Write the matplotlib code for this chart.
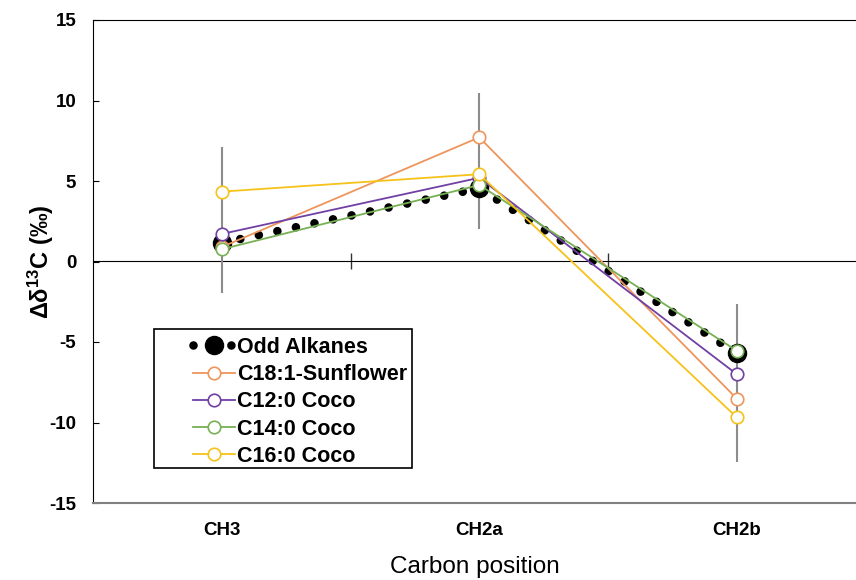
import matplotlib
matplotlib.use("Agg")
import matplotlib.pyplot as plt
from matplotlib.patches import Rectangle

plt.rcParams['font.family'] = ['Liberation Sans', 'DejaVu Sans']
plt.rcParams['axes.unicode_minus'] = False
plt.rcParams['mathtext.fontset'] = 'custom'
plt.rcParams['mathtext.rm'] = 'Liberation Sans:bold'
plt.rcParams['mathtext.bf'] = 'Liberation Sans:bold'
plt.rcParams['mathtext.default'] = 'bf'

categories = ["CH3", "CH2a", "CH2b"]
odd_alkanes = [1.15, 4.55, -5.70]
c18_sunflower = [0.9, 7.71, -8.52]
c12_coco = [1.71, 5.2, -7.0]
c14_coco = [0.76, 4.75, -5.54]
c16_coco = [4.34, 5.42, -9.68]
err_low = [-1.95, 2.02, -12.43]
err_high = [7.1, 10.45, -2.64]
yticks = [-15, -10, -5, 0, 5, 10, 15]

series = [
    ("C18:1-Sunflower", c18_sunflower, "#EE955C"),
    ("C12:0 Coco", c12_coco, "#7140A4"),
    ("C14:0 Coco", c14_coco, "#77B055"),
    ("C16:0 Coco", c16_coco, "#F6C219"),
]

fig = plt.figure(figsize=(8.56, 5.8), dpi=100)
ax = fig.add_axes([93/856, 1-503/580, 1-93/856, (503-20)/580])
x = list(range(len(categories)))

ax.vlines(x, err_low, err_high, colors="#8C8C8C", lw=1.5, zorder=1)

ax.plot(x, odd_alkanes, color="black", lw=6.2, linestyle=(0, (0.001, 2.2)),
        dash_capstyle="round", marker="o", markersize=13,
        markerfacecolor="black", markeredgecolor="black",
        label="Odd Alkanes", zorder=2)

for i, (name, vals, col) in enumerate(series):
    ax.plot(x, vals, color=col, lw=1.3, marker="o", markersize=9,
            markerfacecolor="white", markeredgecolor=col, markeredgewidth=1.2,
            label=name, zorder=3 + i)

ax.set_xlim(-0.5, 2.463)
ax.set_ylim(-15, 15)
ax.set_yticks(yticks)
ax.set_yticklabels([str(v) for v in yticks])
ax.set_xticks(x)
ax.set_xticklabels(categories)
ax.tick_params(axis="y", direction="in", length=4, pad=12, labelsize=13.5)
ax.tick_params(axis="x", length=0, pad=14, labelsize=13.5)
for lab in ax.get_xticklabels() + ax.get_yticklabels():
    lab.set_fontweight("bold")

ax.spines["right"].set_visible(False)
ax.spines["top"].set_color("black")
ax.spines["left"].set_color("black")
ax.spines["bottom"].set_color("#808080")
ax.spines["bottom"].set_linewidth(1.5)

sec = ax.secondary_xaxis(0.5)
sec.set_xticks([0.5, 1.5])
sec.set_xticklabels(["", ""])
sec.tick_params(axis="x", direction="inout", length=12, width=1, color="#333333")
sec.spines["bottom"].set_color("#333333")
sec.spines["bottom"].set_linewidth(1.0)

ax.set_xlabel("Carbon position", fontsize=17.5, labelpad=12)
ax.set_ylabel(r"Δδ$^{13}$C (‰)", fontsize=17, fontweight="bold", labelpad=-5)

leg = ax.legend(loc="upper left", bbox_to_anchor=((193-93)/763, (503-337)/483),
                frameon=False, prop={"weight": "bold", "size": 15.5},
                handlelength=1.95, handletextpad=0.1, labelspacing=0.29,
                borderaxespad=0, borderpad=0)
leg.set_zorder(20)
ax.add_patch(Rectangle(((154-93)/763, (503-468)/483), (412-154)/763, (468-329)/483,
                       transform=ax.transAxes, facecolor="white", edgecolor="black",
                       lw=1.2, zorder=15))

fig.savefig("out.png", dpi=100)
